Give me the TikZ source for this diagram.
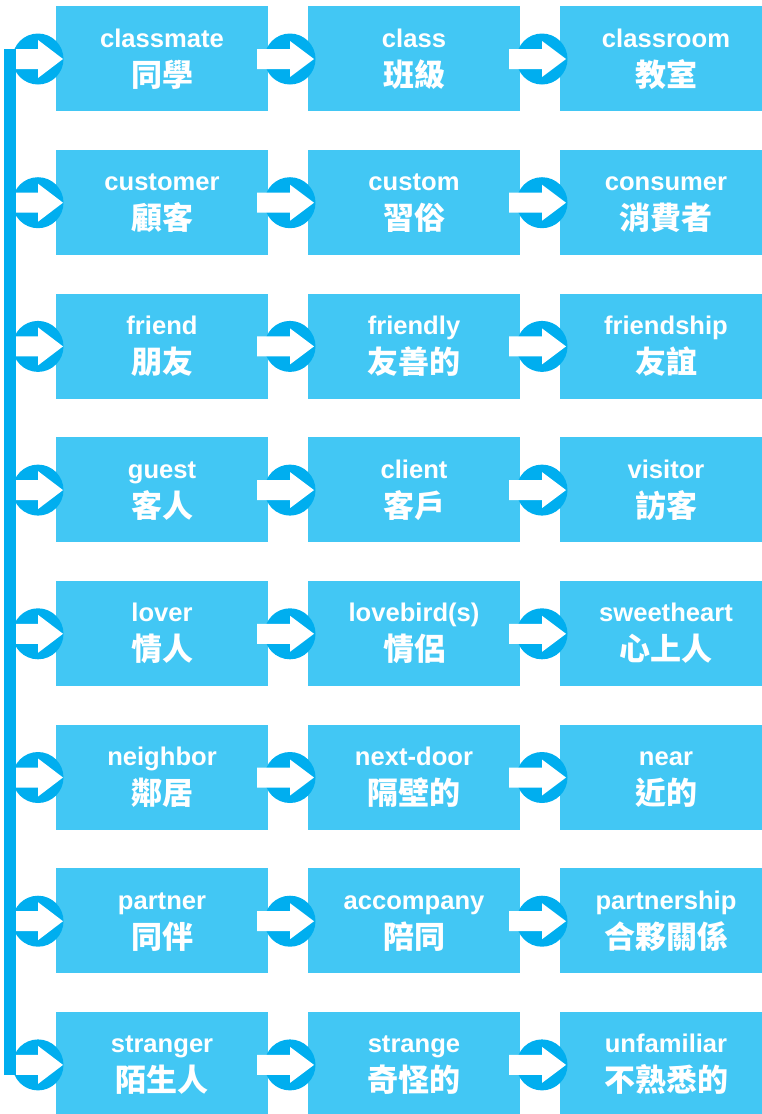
\documentclass[tikz,border=0pt]{standalone}
\usepackage{fontspec}
\setmainfont{Liberation Sans}
\newfontfamily\cjk{Noto Sans CJK TC}
\definecolor{boxblue}{RGB}{66,199,244}
\definecolor{circblue}{RGB}{0,174,239}
\begin{document}
\begin{tikzpicture}[x=1pt,y=-1pt,
  wordbox/.style={fill=boxblue,draw=none,minimum width=212pt,minimum height=105pt,inner sep=0pt,anchor=north west},
  dot/.style={circle,fill=circblue,draw=none,minimum size=51pt,inner sep=0pt},
  entxt/.style={text=white,anchor=base,font=\fontsize{25.6}{30}\selectfont\bfseries},
  zhtxt/.style={text=white,anchor=base,font=\fontsize{31}{36}\selectfont\cjk\bfseries},
  arrowfill/.style={fill=white,draw=none}]
\useasboundingbox (0,0) rectangle (762,1114);
\foreach \r/\ea/\za/\eb/\zb/\ec/\zc in {
 0/classmate/同學/class/班級/classroom/教室,
 1/customer/顧客/custom/習俗/consumer/消費者,
 2/friend/朋友/friendly/友善的/friendship/友誼,
 3/guest/客人/client/客戶/visitor/訪客,
 4/lover/情人/lovebird(s)/情侶/sweetheart/心上人,
 5/neighbor/鄰居/next-door/隔壁的/near/近的,
 6/partner/同伴/accompany/陪同/partnership/合夥關係,
 7/stranger/陌生人/strange/奇怪的/unfamiliar/不熟悉的}{
  \pgfmathsetmacro{\ty}{6+143.7*\r}
  \node[wordbox] (b\r-1) at (56,\ty) {};
  \node[wordbox] (b\r-2) at (308,\ty) {};
  \node[wordbox] (b\r-3) at (560,\ty) {};
  \node[entxt] (e\r-1) at (162,\ty+41) {\ea};
  \node[zhtxt] (z\r-1) at (162,\ty+80) {\za};
  \node[entxt] (e\r-2) at (414,\ty+41) {\eb};
  \node[zhtxt] (z\r-2) at (414,\ty+80) {\zb};
  \node[entxt] (e\r-3) at (666,\ty+41) {\ec};
  \node[zhtxt] (z\r-3) at (666,\ty+80) {\zc};
  % circles
  \node[dot] (c\r-1) at (38,\ty+53) {};
  \node[dot] (c\r-2) at (290,\ty+53) {};
  \node[dot] (c\r-3) at (542,\ty+53) {};
  % arrows
  \fill[arrowfill] ([shift={(-23,-10)}]c\r-1.center) -- ([shift={(0,-10)}]c\r-1.center)
     -- ([shift={(0,-19)}]c\r-1.center) -- ([shift={(25,0)}]c\r-1.center)
     -- ([shift={(0,19)}]c\r-1.center) -- ([shift={(0,10)}]c\r-1.center)
     -- ([shift={(-23,10)}]c\r-1.center) -- cycle;
  \foreach \k in {2,3}{
  \fill[arrowfill] ([shift={(-33,-10)}]c\r-\k.center) -- ([shift={(0,-10)}]c\r-\k.center)
     -- ([shift={(0,-18)}]c\r-\k.center) -- ([shift={(24,0)}]c\r-\k.center)
     -- ([shift={(0,18)}]c\r-\k.center) -- ([shift={(0,10)}]c\r-\k.center)
     -- ([shift={(-33,10)}]c\r-\k.center) -- cycle;
  }
}
% vertical bar
\coordinate (bartop) at ([shift={(-34,-10)}]c0-1.center);
\coordinate (barbot) at ([shift={(-22,10)}]c7-1.center);
\fill[circblue] (bartop) rectangle (barbot);
\end{tikzpicture}
\end{document}
